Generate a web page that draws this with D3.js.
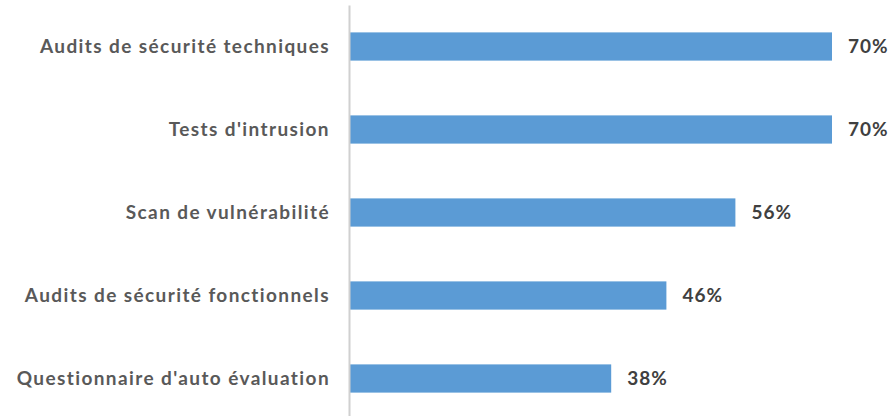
<!DOCTYPE html>
<html>
<head>
<meta charset="utf-8">
<script src="https://cdn.jsdelivr.net/npm/d3@7"></script>
<style>
  html, body { margin: 0; padding: 0; background: #fff; }
  svg { display: block; }
</style>
</head>
<body>
<div id="chart"></div>
<script>
const categories = [
    'Audits de sécurité techniques',
    "Tests d'intrusion",
    'Scan de vulnérabilité',
    'Audits de sécurité fonctionnels',
    "Questionnaire d'auto évaluation"
];
const values = [70, 70, 56, 46, 38];

const width = 893;
const height = 416;
const axisX = 349;

const svg = d3.select('#chart')
    .append('svg')
    .attr('width', width)
    .attr('height', height);

// x scale: 0..70% maps to axis .. bar end
const x = d3.scaleLinear()
    .domain([0, 70])
    .range([axisX, 832]);

// y scale with wide gaps between slim bars
const y = d3.scaleBand()
    .domain(categories)
    .range([5, 420])
    .paddingInner(0.66)
    .paddingOuter(0.33);

svg.selectAll('.bar')
    .data(values)
    .enter()
    .append('rect')
    .attr('class', 'bar')
    .attr('x', x(0))
    .attr('y', (d, i) => y(categories[i]))
    .attr('width', d => x(d) - x(0))
    .attr('height', y.bandwidth())
    .attr('fill', '#5b9bd5');

// category axis
const yAxis = svg.append('g')
    .attr('transform', `translate(${axisX},0)`)
    .call(d3.axisLeft(y).tickSize(0).tickPadding(19));

yAxis.select('.domain')
    .attr('stroke', '#d0d0d0')
    .attr('stroke-width', 2);

yAxis.selectAll('text')
    .style('font-family', 'Lato')
    .style('font-weight', 'bold')
    .style('font-size', '19px')
    .style('letter-spacing', '1.4px')
    .attr('fill', '#595959');

// value labels
svg.selectAll('.label')
    .data(values)
    .enter()
    .append('text')
    .attr('class', 'label')
    .attr('x', d => x(d) + 16)
    .attr('y', (d, i) => y(categories[i]) + y.bandwidth() / 2)
    .attr('dy', '0.35em')
    .style('font-family', 'Lato')
    .style('font-weight', 'bold')
    .style('font-size', '19px')
    .style('letter-spacing', '1px')
    .attr('fill', '#404040')
    .text(d => d + '%');
</script>
</body>
</html>
